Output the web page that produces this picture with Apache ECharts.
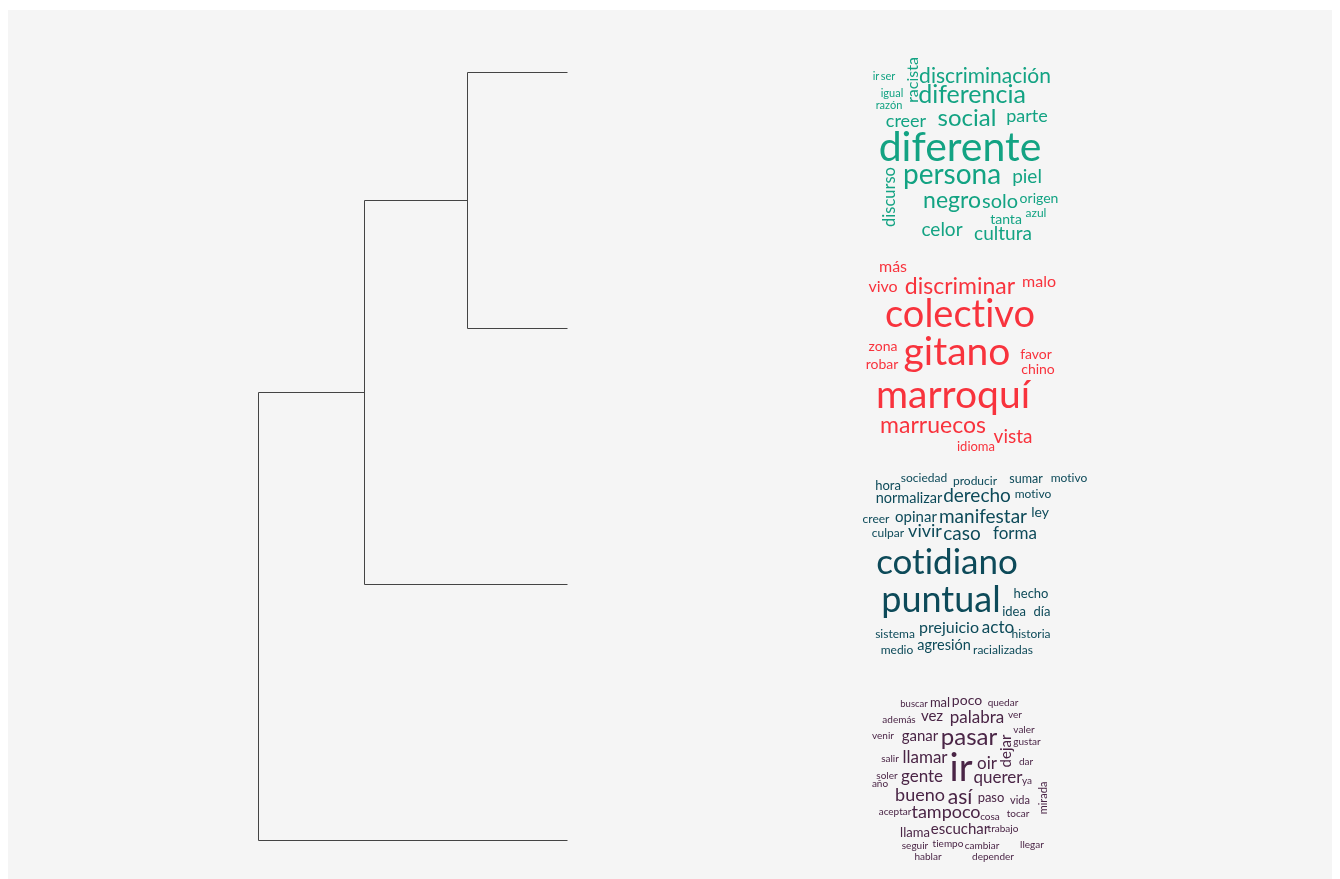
<!DOCTYPE html>
<html>
<head>
<meta charset="utf-8">
<script src="https://cdn.jsdelivr.net/npm/echarts@6/dist/echarts.min.js"></script>
<style>
html,body{margin:0;padding:0;background:#ffffff;}
#chart{width:1340px;height:879px;}
</style>
</head>
<body>
<div id="chart"></div>
<script>
// ---------------- DATA ----------------
// Dendrogram: 4 leaves (clusters), merges [a, b, height]; ids >= 4 refer to earlier merges
const leaves = ['Clúster 1', 'Clúster 2', 'Clúster 3', 'Clúster 4'];
const merges = [
  [0, 1, 1.00],
  [4, 2, 2.03],
  [5, 3, 3.09]
];

// Word clouds: words and weights (font size) per cluster
const cluster1Words = ['diferente','persona','diferencia','social','negro','discriminación','solo','cultura','celor','creer','parte','piel','discurso','racista','origen','tanta','azul','ir','ser','igual','razón'];
const cluster1Weights = [41,28,25,24,23,21,20,19,19,18,18,19,16.5,16,14,14,12,11,11,11,11];

const cluster2Words = ['colectivo','gitano','marroquí','discriminar','marruecos','vista','más','vivo','malo','zona','robar','favor','chino','idioma'];
const cluster2Weights = [38,39,39,23,23,19,16,16,16,14,14,14,14,13];

const cluster3Words = ['cotidiano','puntual','derecho','manifestar','caso','vivir','prejuicio','acto','forma','normalizar','opinar','agresión','ley','hecho','sociedad','producir','sumar','motivo','hora','motivo','creer','culpar','idea','día','sistema','historia','medio','racializadas'];
const cluster3Weights = [35,36,19,19,19,18,16,17,17,14.5,15,14.5,14,13,12,12,12.5,12,13,12,12,12,13,13,12,12,12,12];

const cluster4Words = ['ir','pasar','así','palabra','bueno','tampoco','llamar','gente','querer','oir','dejar','ganar','vez','escuchar','poco','mal','paso','llama','mirada','vida','buscar','quedar','además','ver','venir','valer','gustar','salir','dar','soler','año','ya','aceptar','cosa','tocar','trabajo','seguir','tiempo','cambiar','llegar','hablar','depender'];
const cluster4Weights = [38,24,21,17,18,18,17,17,17,17,15,15,15,15,14,13,13,13,11,11,9.5,10,10,10,10,10,10,10,10,10,10,10,10,10,10,10,10,10,10,10,10,10];

const clusterColors = ['#13a383', '#f8333d', '#0d4a59', '#4a2546'];

// Word-cloud layout (x, y centre within the cloud panel, rotation in degrees)
const cluster1Layout = [[100,93,0],[92,120,0],[112,40,0],[107,63,0],[92,146,0],[125,21,0],[140,147,0],[143,179,0],[82,175,0],[46,66,0],[167,61,0],[167,122,0],[30,142,90],[53,25,90],[179,143,0],[146,164,0],[176,158,0],[16,21,0],[28,21,0],[32,38,0],[29,50,0]];
const cluster2Layout = [[100,260,0],[97,297,0],[93,340,0],[100,232,0],[73,371,0],[153,382,0],[33,212,0],[23,232,0],[179,227,0],[23,291,0],[22,309,0],[176,299,0],[178,314,0],[116,392,0]];
const cluster3Layout = [[87,508,0],[81,545,0],[117,441,0],[123,462,0],[102,479,0],[65,476,0],[89,573,0],[138,573,0],[155,479,0],[49,443,0],[56,462,0],[84,590,0],[180,457,0],[171,539,0],[64,423,0],[115,426,0],[166,424,0],[209,423,0],[28,431,0],[173,439,0],[16,464,0],[28,478,0],[154,557,0],[182,557,0],[35,579,0],[171,579,0],[37,595,0],[143,595,0]];
const cluster4Layout = [[101,714,0],[109,682,0],[100,742,0],[117,663,0],[60,740,0],[86,757,0],[65,703,0],[62,722,0],[138,723,0],[127,709,0],[146,696,90],[60,681,0],[72,661,0],[100,774,0],[107,645,0],[80,648,0],[131,743,0],[55,778,0],[183,743,90],[160,745,0],[54,649,0],[143,648,0],[39,665,0],[155,660,0],[23,681,0],[164,675,0],[167,687,0],[30,704,0],[166,707,0],[27,721,0],[20,729,0],[167,726,0],[35,757,0],[130,762,0],[158,759,0],[143,774,0],[55,791,0],[88,789,0],[122,791,0],[172,790,0],[68,802,0],[133,802,0]];

// ---------------- BUILD ----------------
// Dendrogram geometry from merges (leaf positions = order index, node height = merge height)
const nodePos = leaves.map((_, i) => ({ y: i, h: 0 }));
const segs = [];
merges.forEach(([a, b, h]) => {
  const A = nodePos[a], B = nodePos[b];
  segs.push([[A.h, A.y], [h, A.y]]);
  segs.push([[B.h, B.y], [h, B.y]]);
  segs.push([[h, A.y], [h, B.y]]);
  nodePos.push({ y: (A.y + B.y) / 2, h: h });
});
const dendroSeries = segs.map(s => ({
  type: 'line', xAxisIndex: 0, yAxisIndex: 0,
  data: s, symbol: 'none', silent: true, animation: false,
  lineStyle: { color: '#444444', width: 1 }
}));

// display text: break the "ti" ligature so glyphs look like the reference
function noLig(w) { return w.replace(/ti/g, 't\u200Ci'); }

function cloudSeries(words, weights, layout, color) {
  return {
    type: 'scatter', xAxisIndex: 1, yAxisIndex: 1,
    symbolSize: 0, silent: true, animation: false,
    itemStyle: { opacity: 1 },
    data: words.map((w, i) => ({
      value: [layout[i][0], layout[i][1]],
      name: w,
      itemStyle: { opacity: 1 },
      label: {
        show: true, position: 'inside', formatter: noLig(w),
        fontSize: weights[i], rotate: layout[i][2],
        color: color, opacity: 1, fontFamily: 'Lato', fontWeight: 'normal',
        textBorderWidth: 0
      }
    }))
  };
}

const chart = echarts.init(document.getElementById('chart'), null, { renderer: 'canvas' });
chart.setOption({
  backgroundColor: '#ffffff',
  animation: false,
  graphic: [{
    type: 'rect', z: -10, silent: true,
    shape: { x: 8, y: 10, width: 1324, height: 869 },
    style: { fill: '#f5f5f5' }
  }],
  grid: [
    { left: 217.5, width: 350, top: 72.5, height: 768 },
    { left: 860, width: 240, top: 55, height: 815 }
  ],
  xAxis: [
    { gridIndex: 0, type: 'value', min: 0, max: 3.5, inverse: true, show: false },
    { gridIndex: 1, type: 'value', min: 0, max: 240, show: false }
  ],
  yAxis: [
    { gridIndex: 0, type: 'value', min: 0, max: 3, inverse: true, show: false },
    { gridIndex: 1, type: 'value', min: 0, max: 815, inverse: true, show: false }
  ],
  series: dendroSeries.concat([
    cloudSeries(cluster1Words, cluster1Weights, cluster1Layout, clusterColors[0]),
    cloudSeries(cluster2Words, cluster2Weights, cluster2Layout, clusterColors[1]),
    cloudSeries(cluster3Words, cluster3Weights, cluster3Layout, clusterColors[2]),
    cloudSeries(cluster4Words, cluster4Weights, cluster4Layout, clusterColors[3])
  ])
});
</script>
</body>
</html>
